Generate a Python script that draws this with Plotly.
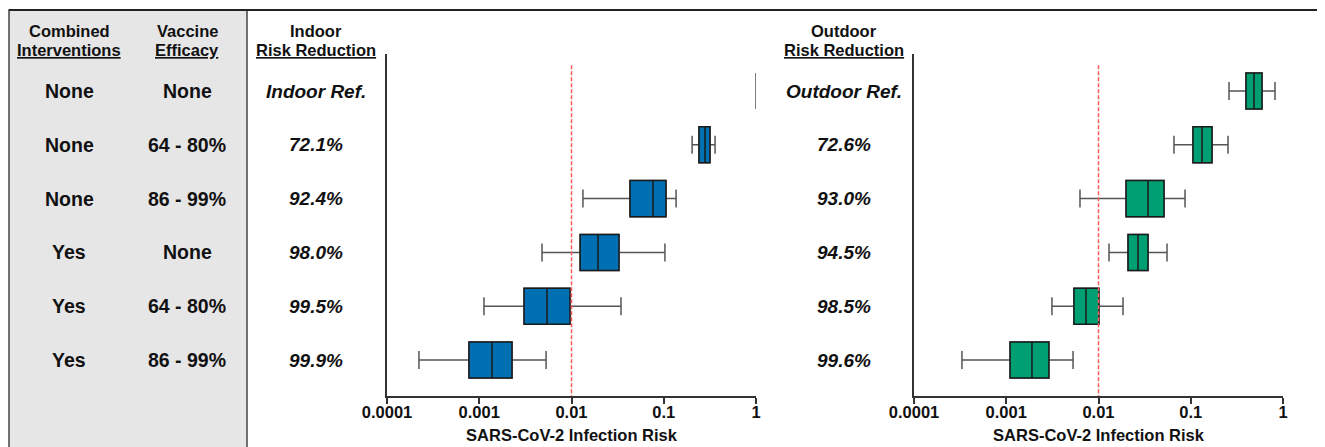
import plotly.graph_objects as go

# page body has an 8px margin; draw in reference pixel coordinates shifted by it
OFF = 8
W, H = 1325 - OFF, 447 - OFF

# ---------------- data ----------------
combined = ["None", "None", "None", "Yes", "Yes", "Yes"]
vaccine = ["None", "64 - 80%", "86 - 99%", "None", "64 - 80%", "86 - 99%"]
indoor_reduction = ["Indoor Ref.", "72.1%", "92.4%", "98.0%", "99.5%", "99.9%"]
outdoor_reduction = ["Outdoor Ref.", "72.6%", "93.0%", "94.5%", "98.5%", "99.6%"]

indoor_lower = [1.0, 0.203, 0.0133, 0.00479, 0.001125, 0.000222]
indoor_q1 = [1.0, 0.241, 0.0431, 0.0124, 0.00306, 0.000774]
indoor_median = [1.0, 0.280, 0.0764, 0.0194, 0.00542, 0.001375]
indoor_q3 = [1.0, 0.317, 0.1057, 0.0327, 0.00963, 0.002265]
indoor_upper = [1.0, 0.360, 0.136, 0.103, 0.0344, 0.0053]

outdoor_lower = [0.260, 0.0658, 0.0063, 0.0130, 0.00313, 0.000331]
outdoor_q1 = [0.397, 0.1057, 0.0199, 0.0209, 0.00542, 0.0011]
outdoor_median = [0.485, 0.1324, 0.0344, 0.0268, 0.00732, 0.0019]
outdoor_q3 = [0.592, 0.170, 0.0513, 0.0344, 0.0101, 0.0029]
outdoor_upper = [0.819, 0.2535, 0.0867, 0.0553, 0.01844, 0.0053]

threshold = 0.01
tick_vals = [0.0001, 0.001, 0.01, 0.1, 1]
tick_text = ["0.0001", "0.001", "0.01", "0.1", "1"]
axis_title = "SARS-CoV-2 Infection Risk"

# ---------------- styling ----------------
FONT = "Liberation Sans"
BLUE = "#0070b2"
GREEN = "#009e73"
DARK = "#1a1a1a"
WHISK = "#555555"
RED = "#ff5a5a"


def px(x):
    return (x - OFF) / W


def py(y):
    return 1 - (y - OFF) / H


fig = go.Figure()


def add_panel(xa, ya, lower, q1, med, q3, upper, color, ref_is_line):
    for i in range(len(q1)):
        # whiskers (grey)
        fig.add_trace(go.Box(
            y=[i], q1=[q1[i]], median=[med[i]], q3=[q3[i]],
            lowerfence=[lower[i]], upperfence=[upper[i]],
            orientation="h", width=0.67, whiskerwidth=0.5,
            fillcolor="rgba(0,0,0,0)", line=dict(color=WHISK, width=1.5),
            boxpoints=False, xaxis=xa, yaxis=ya, showlegend=False,
            hoverinfo="skip"))
        if ref_is_line and i == 0:
            continue
        # box (dark outline, filled)
        fig.add_trace(go.Box(
            y=[i], q1=[q1[i]], median=[med[i]], q3=[q3[i]],
            lowerfence=[q1[i]], upperfence=[q3[i]],
            orientation="h", width=0.67, whiskerwidth=0,
            fillcolor=color, line=dict(color=DARK, width=1.5),
            boxpoints=False, xaxis=xa, yaxis=ya, showlegend=False,
            hoverinfo="skip"))
    # reference threshold line
    fig.add_trace(go.Scatter(
        x=[threshold, threshold], y=[-0.48, 5.669], mode="lines",
        line=dict(color=RED, width=1.5, dash="4px,2px"),
        xaxis=xa, yaxis=ya, showlegend=False, hoverinfo="skip"))


add_panel("x", "y", indoor_lower, indoor_q1, indoor_median, indoor_q3,
          indoor_upper, BLUE, True)
add_panel("x2", "y2", outdoor_lower, outdoor_q1, outdoor_median, outdoor_q3,
          outdoor_upper, GREEN, False)

xcommon = dict(
    type="log", range=[-4, 0], tickvals=tick_vals, ticktext=tick_text,
    ticks="outside", ticklen=6, tickwidth=2, tickcolor="#333",
    ticklabelstandoff=-6,
    showline=True, linewidth=2, linecolor="#333", showgrid=False,
    zeroline=False, automargin=False,
    tickfont=dict(family=FONT, size=16.5, color="#111", weight=700),
    title=dict(text=axis_title, standoff=10,
               font=dict(family=FONT, size=16.5, color="#111", weight=700)),
)
ycommon = dict(
    range=[5.669, -0.688], domain=[py(396), py(54)], showline=True,
    linewidth=2, linecolor="#333", showticklabels=False, ticks="",
    showgrid=False, zeroline=False, automargin=False,
)

fig.update_layout(
    template="none",
    width=W, height=H,
    margin=dict(l=0, r=0, t=0, b=0, pad=0, autoexpand=False),
    paper_bgcolor="white", plot_bgcolor="rgba(0,0,0,0)",
    boxmode="overlay", showlegend=False,
    xaxis=dict(domain=[px(387), px(756)], anchor="y", **xcommon),
    yaxis=dict(anchor="x", **ycommon),
    xaxis2=dict(domain=[px(914), px(1283)], anchor="y2", **xcommon),
    yaxis2=dict(anchor="x2", **ycommon),
)

# grey table panel and frame
fig.add_shape(type="rect", xref="paper", yref="paper",
              x0=px(9), x1=px(247), y0=py(470), y1=py(10),
              fillcolor="#e6e6e6", line=dict(color="#444", width=1.5),
              layer="below")
fig.add_shape(type="line", xref="paper", yref="paper",
              x0=px(9), x1=px(1340), y0=py(10), y1=py(10),
              line=dict(color="#222", width=2))

annotations = []


def head(x, y, text):
    annotations.append(dict(
        x=px(x), y=py(y), xref="paper", yref="paper", text=text,
        showarrow=False, xanchor="center", yanchor="middle",
        font=dict(family=FONT, size=16.5, color="#111", weight=700)))


head(69, 31, "Combined")
head(69, 50, "<u>Interventions</u>")
head(187, 31, "Vaccine")
head(187, 50, "<u>Efficacy</u>")
head(316, 31, "Indoor")
head(316, 50, "<u>Risk Reduction</u>")
head(844, 31, "Outdoor")
head(844, 50, "<u>Risk Reduction</u>")


def cell(x, yref, i, text, italic=False):
    annotations.append(dict(
        x=px(x), y=i, xref="paper", yref=yref,
        text=("<i>%s</i>" % text) if italic else text,
        showarrow=False, xanchor="center", yanchor="middle",
        font=dict(family=FONT, size=19 if italic else 19.5, color="#111",
                  weight=700)))


for i in range(len(combined)):
    cell(69, "y", i, combined[i])
    cell(187, "y", i, vaccine[i])
    cell(316, "y", i, indoor_reduction[i], italic=True)
    cell(844, "y2", i, outdoor_reduction[i], italic=True)

fig.update_layout(annotations=annotations)

fig.write_html("out.html")
